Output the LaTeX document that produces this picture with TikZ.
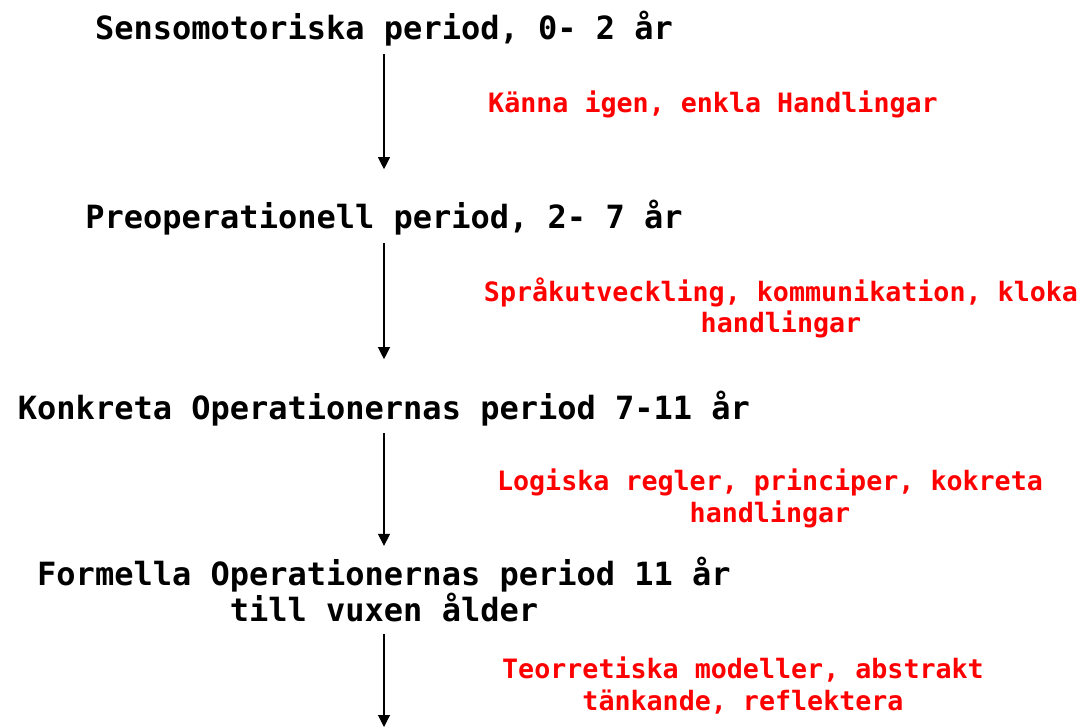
\documentclass[tikz,border=0pt]{standalone}
\usepackage{fontspec}
\setmonofont{DejaVu Sans Mono}
\usetikzlibrary{arrows.meta,positioning}

\begin{document}
\begin{tikzpicture}
  [x=0.75pt,y=-0.75pt,
   stage/.style={anchor=base,align=center,font=\fontsize{24}{26.5}\selectfont\ttfamily\bfseries},
   note/.style={anchor=base,align=center,text=red,font=\fontsize{20}{24}\selectfont\ttfamily\bfseries},
   flow/.style={-{Triangle[width=9pt,length=9pt]},line width=0.8pt,shorten <=2pt,shorten >=20pt}]
  \useasboundingbox (0,0) rectangle (1089,727);
  \node[stage] (s1) at (384,40) {Sensomotoriska period, 0- 2 år};
  \node[stage] (s2) at (384,229) {Preoperationell period, 2- 7 år};
  \node[stage] (s3) at (384,419) {Konkreta Operationernas period 7-11 år};
  \node[stage] (s4) at (384,621) {Formella Operationernas period 11 år\\till vuxen ålder};
  \coordinate (end) at (384,727);

  \node[note] (t1) at (713,113) {Känna igen, enkla Handlingar};
  \node[note] (t2) at (781,333) {Språkutveckling, kommunikation, kloka\\handlingar};
  \node[note] (t3) at (770,522) {Logiska regler, principer, kokreta\\handlingar};
  \node[note] (t4) at (743,710) {Teorretiska modeller, abstrakt\\tänkande, reflektera};

  \foreach \from/\to/\gap in {s1/s2/20pt,s2/s3/20pt,s3/s4/5pt}
    \draw[flow,shorten >=\gap] (\from.south) -- (\to.north);
  \draw[flow,shorten <=6pt,shorten >=0pt] (s4.south) -- (end);
\end{tikzpicture}
\end{document}
